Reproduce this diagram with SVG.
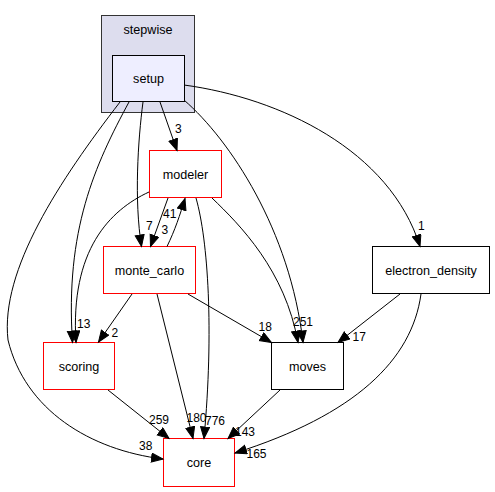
<svg xmlns="http://www.w3.org/2000/svg" width="495" height="492" viewBox="0 0 495 492">
<defs>
<marker id="ah" markerUnits="userSpaceOnUse" markerWidth="14" markerHeight="12" refX="12" refY="5" orient="auto">
<path d="M0.5,0.5 L12,5 L0.5,9.5 z" fill="#000" stroke="#000" stroke-width="1"/>
</marker>
<style>
.n{font-family:"Liberation Sans",Arial,sans-serif;font-size:12.6px;text-anchor:middle;fill:#000}
.l{font-family:"Liberation Sans",Arial,sans-serif;font-size:12px;fill:#000}
.e path{fill:none;stroke:#000;stroke-width:1;marker-end:url(#ah)}
.red{fill:#fff;stroke:#ff0000;stroke-width:1}
.blk{fill:#fff;stroke:#000;stroke-width:1}
</style>
</defs>
<rect width="495" height="492" fill="#fff"/>
<g id="cluster_stepwise">
<rect x="101.5" y="15.5" width="93" height="97" fill="#ddddee" stroke="#333" stroke-width="1"/>
<text class="n" x="148" y="33.5">stepwise</text>
</g>
<g id="node_setup">
<rect x="112.5" y="55.5" width="72" height="46" fill="#eeeeff" stroke="#000" stroke-width="1"/>
<text class="n" x="148.5" y="83">setup</text>
</g>
<g id="node_modeler">
<rect class="red" x="149.5" y="150.5" width="72" height="47"/>
<text class="n" x="185.5" y="178.5">modeler</text>
</g>
<g id="node_monte_carlo">
<rect class="red" x="103.5" y="246.5" width="92" height="47"/>
<text class="n" x="149.5" y="274.5">monte_carlo</text>
</g>
<g id="node_electron_density">
<rect class="blk" x="372.5" y="246.5" width="117" height="47"/>
<text class="n" x="431" y="274.5">electron_density</text>
</g>
<g id="node_scoring">
<rect class="red" x="43.5" y="342.5" width="71" height="47"/>
<text class="n" x="79" y="370.5">scoring</text>
</g>
<g id="node_moves">
<rect class="blk" x="271.5" y="342.5" width="72" height="47"/>
<text class="n" x="307.5" y="370.5">moves</text>
</g>
<g id="node_core">
<rect class="red" x="163.5" y="438.5" width="71" height="48"/>
<text class="n" x="199" y="466.5">core</text>
</g>
<g id="connectors" class="e">
<path d="M160,102 L177,150.5"/>
<path d="M143,102 C138,140 134,200 141.5,246.5"/>
<path d="M129,102 C95,165 65,230 72.5,342.5"/>
<path d="M120,102 C60,180 0,270 8,340 C25,410 90,450 163,459"/>
<path d="M184,100 C230,140 290,230 303,342.5"/>
<path d="M184,85 C280,98 390,150 420,246.5"/>
<path d="M168,198 L150.5,246.5"/>
<path d="M167,246.5 C175,230 180,215 185,198.5"/>
<path d="M149,192 C110,210 70,250 76,342.5"/>
<path d="M212,198 C240,225 285,270 298,342.5"/>
<path d="M196,198 C208,240 214,330 204,438.5"/>
<path d="M157,294 L193,438.5"/>
<path d="M188,294 L271.5,342.5"/>
<path d="M132,294 L98.5,342"/>
<path d="M108,390 L169,438.5"/>
<path d="M280,390 L228,438.5"/>
<path d="M400,294 L338,342.5"/>
<path d="M421,294 C412,360 355,415 235,453"/>
</g>
<g id="labels">
<text class="l" x="175" y="133">3</text>
<text class="l" x="146" y="230">7</text>
<text class="l" x="161.5" y="234">3</text>
<text class="l" x="163" y="218">41</text>
<text class="l" x="77" y="327.5">13</text>
<text class="l" x="111.5" y="336.5">2</text>
<text class="l" x="258.5" y="331">18</text>
<text class="l" x="293" y="326">251</text>
<text class="l" x="352.5" y="341">17</text>
<text class="l" x="418" y="230">1</text>
<text class="l" x="149" y="424">259</text>
<text class="l" x="186.5" y="422">180</text>
<text class="l" x="205" y="425">776</text>
<text class="l" x="235" y="436">143</text>
<text class="l" x="139" y="450">38</text>
<text class="l" x="246.5" y="457.5">165</text>
</g>
</svg>
